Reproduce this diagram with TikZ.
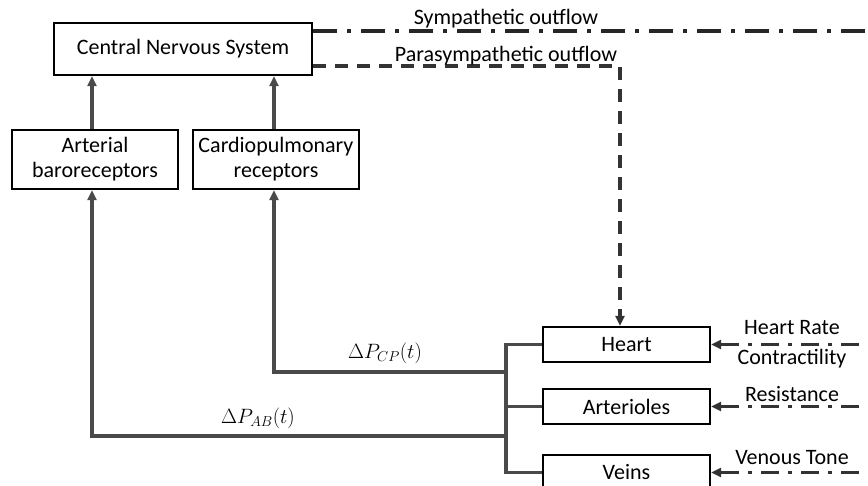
\documentclass[tikz,border=0pt]{standalone}
\usepackage{fontspec}
\setmainfont{Carlito}
\usetikzlibrary{arrows.meta}
\definecolor{lin}{HTML}{4A4A4A}
\tikzset{
  box/.style={draw=black,line width=2.4pt,fill=white,minimum width=#1,inner sep=0pt,align=center,font=\fontsize{22}{25}\selectfont},
  conn/.style={draw=lin,line width=3.4pt},
  tip/.style={-{Triangle[length=10pt,width=9pt]}},
  symline/.style={draw=black!85,line width=3.2pt,dash pattern=on 24pt off 10pt on 4pt off 10pt},
  inline/.style={draw=black!80,line width=3.2pt,dash pattern=on 4pt off 9pt on 18pt off 9pt},
  paraline/.style={draw=black!80,line width=3.2pt,dash pattern=on 13pt off 9pt},
  lab/.style={font=\fontsize{22}{26}\selectfont,inner sep=0pt},
  mlab/.style={font=\fontsize{22}{26}\selectfont,inner sep=0pt}
}
\begin{document}
\begin{tikzpicture}[x=1pt,y=-1pt]
\useasboundingbox (0,0) rectangle (868,485);
\clip (0,0) rectangle (868,485);
% boxes
\node[box=258pt,minimum height=52pt] (cns) at (183,49) {Central Nervous System};
\node[box=166pt,minimum height=59pt] (ab) at (95,159.5) {Arterial\\baroreceptors};
\node[box=166pt,minimum height=59pt] (cp) at (276,159.5) {Cardiopulmonary\\receptors};
\node[box=167pt,minimum height=35pt] (heart) at (626.5,344.5) {Heart};
\node[box=167pt,minimum height=35pt] (arter) at (626.5,406.5) {Arterioles};
\node[box=167pt,minimum height=35pt] (veins) at (626.5,472.5) {Veins};
% helper coordinates
\coordinate (xa) at (92,0);
\coordinate (xc) at (274,0);
\coordinate (bus) at (506,0);
\coordinate (jcp) at (506,372);
\coordinate (jab) at (506,436);
\coordinate (symend) at (872,31);
\coordinate (pcorner) at (620,66);
\coordinate (rend) at (872,0);
% receptors to CNS
\draw[conn,tip] (xa |- ab.north) -- (xa |- cns.south);
\draw[conn,tip] (xc |- cp.north) -- (xc |- cns.south);
% bus
\draw[conn] (heart.west) -| (bus |- veins.west) -- (veins.west);
\draw[conn] (arter.west) -- (bus |- arter.west);
% feedback
\draw[conn,tip] (jcp) -| (xc |- cp.south);
\draw[conn,tip] (jab) -| (xa |- ab.south);
% outflows
\draw[symline] (symend -| cns.east) -- (symend);
\draw[paraline,tip] (pcorner -| cns.east) -- (pcorner) -- (pcorner |- heart.north);
% inputs
\draw[inline,tip] (rend |- heart.east) -- (heart.east);
\draw[inline,tip] (rend |- arter.east) -- (arter.east);
\draw[inline,tip] (rend |- veins.east) -- (veins.east);
% labels
\node[lab] (lsym) at (506,19) {Sympathetic outflow};
\node[lab] (lpara) at (506,56) {Parasympathetic outflow};
\node[mlab] (lcp) at (385,353) {$\Delta P_{CP}(t)$};
\node[mlab] (lab1) at (258,418) {$\Delta P_{AB}(t)$};
\node[lab] (lhr) at (792,328) {Heart Rate};
\node[lab] (lcon) at (792,359) {Contractility};
\node[lab] (lres) at (792,394) {Resistance};
\node[lab] (lven) at (792,458) {Venous Tone};
\end{tikzpicture}
\end{document}
